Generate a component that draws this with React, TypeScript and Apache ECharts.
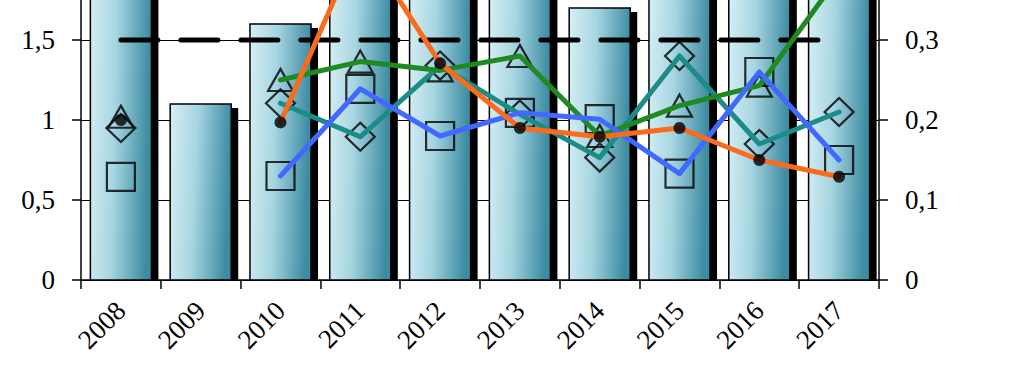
import React, { useEffect, useRef } from "react";
import * as echarts from "echarts";

const years = ["2008", "2009", "2010", "2011", "2012", "2013", "2014", "2015", "2016", "2017"];
// Bars (left axis)
const barValues = [2.1, 1.1, 1.6, 2.0, 2.05, 1.95, 1.7, 2.0, 1.9, 1.95];
// Reference level (left axis)
const refLevel = [1.5, 1.5, 1.5, 1.5, 1.5, 1.5, 1.5, 1.5, 1.5, 1.5];
// Line series (right axis)
const circleSeries = [0.2, null, 0.197, 0.425, 0.271, 0.19, 0.179, 0.19, 0.15, 0.129];
const triangleSeries = [0.204, null, 0.25, 0.273, 0.262, 0.28, 0.18, 0.218, 0.243, 0.38];
const diamondSeries = [0.19, null, 0.221, 0.179, 0.268, 0.207, 0.153, 0.28, 0.17, 0.21];
const squareSeries = [0.129, null, 0.13, 0.239, 0.18, 0.209, 0.201, 0.133, 0.26, 0.15];

const leftTicks = { min: 0, max: 2, interval: 0.5 };
const rightTicks = { min: 0, max: 0.4, interval: 0.1 };

const FONT = "'Liberation Serif', 'Times New Roman', serif";

function fmt(v: number) {
  const r = Math.round(v * 100) / 100;
  return String(r).replace(".", ",");
}

function pts(arr: (number | null)[]) {
  const out: [number, number][] = [];
  arr.forEach((v, i) => {
    if (v !== null) out.push([i, v]);
  });
  return out;
}

export default function App() {
  const ref = useRef<HTMLDivElement>(null);
  useEffect(() => {
    if (!ref.current) return;
    const chart = echarts.init(ref.current, undefined, { renderer: "svg" });
    const grad = new echarts.graphic.LinearGradient(0, 0, 1, 0.12, [
      { offset: 0, color: "#d7eff5" },
      { offset: 0.45, color: "#a6d5e1" },
      { offset: 1, color: "#3d8ca2" },
    ]);
    const axisLabel = { color: "#000", fontFamily: FONT, fontSize: 27 };
    const markerStyle = { color: "rgba(0,0,0,0)", borderColor: "#000", borderWidth: 2.2 };
    const lineCommon = (data: (number | null)[], color: string, z: number) => ({
      type: "line",
      yAxisIndex: 1,
      data,
      showSymbol: false,
      symbol: "none",
      connectNulls: false,
      lineStyle: { color, width: 5, cap: "round", join: "round" },
      z,
      silent: true,
    });
    const option: any = {
      animation: false,
      grid: {
        left: 81,
        right: 145,
        top: 0,
        bottom: 103,
        containLabel: false,
        outerBoundsMode: "none",
      },
      xAxis: {
        type: "category",
        data: years,
        boundaryGap: true,
        axisLine: { show: true, lineStyle: { color: "#000", width: 1.5 } },
        axisTick: { show: true, interval: 0, length: 9, lineStyle: { color: "#000", width: 1.5 } },
        axisLabel: { ...axisLabel, rotate: 45, margin: 26, interval: 0 },
        splitLine: { show: false },
      },
      yAxis: [
        {
          type: "value",
          ...leftTicks,
          position: "left",
          axisLine: { show: true, lineStyle: { color: "#000", width: 1.5 } },
          axisTick: { show: true, length: 9, lineStyle: { color: "#000", width: 1.5 } },
          axisLabel: { ...axisLabel, margin: 26, showMaxLabel: false, formatter: (v: number) => fmt(v) },
          splitLine: { show: true, lineStyle: { color: "#000", width: 1 } },
        },
        {
          type: "value",
          ...rightTicks,
          position: "right",
          axisLine: { show: true, lineStyle: { color: "#000", width: 1.5 } },
          axisTick: { show: true, length: 9, lineStyle: { color: "#000", width: 1.5 } },
          axisLabel: { ...axisLabel, margin: 26, showMaxLabel: false, formatter: (v: number) => fmt(v) },
          splitLine: { show: false },
        },
      ],
      series: [
        {
          type: "custom",
          yAxisIndex: 0,
          z: 1,
          data: barValues.map((v, i) => [i, v]),
          renderItem: (params: any, api: any) => {
            const idx = api.value(0);
            const val = api.value(1);
            const top = api.coord([idx, val]);
            const bottom = api.coord([idx, 0]);
            const band = api.size([1, 0])[0];
            const w = band * 0.765;
            const x = top[0] - w / 2;
            const h = bottom[1] - top[1];
            return {
              type: "group",
              children: [
                {
                  type: "rect",
                  shape: { x: x + 7, y: top[1] + 4, width: w, height: h - 4 },
                  style: { fill: "#000" },
                },
                {
                  type: "rect",
                  shape: { x, y: top[1], width: w, height: h },
                  style: { fill: grad, stroke: "#000", lineWidth: 1.5 },
                },
              ],
            };
          },
        },
        {
          type: "line",
          yAxisIndex: 0,
          data: refLevel,
          showSymbol: false,
          symbol: "none",
          lineStyle: { color: "#000", width: 5, type: [37, 23], cap: "round" },
          z: 2,
        },
        {
          type: "scatter",
          yAxisIndex: 1,
          data: pts(squareSeries),
          symbol: "rect",
          symbolSize: 28,
          itemStyle: markerStyle,
          z: 3,
        },
        {
          type: "scatter",
          yAxisIndex: 1,
          data: pts(diamondSeries),
          symbol: "diamond",
          symbolSize: [29, 28],
          itemStyle: markerStyle,
          z: 3,
        },
        {
          type: "scatter",
          yAxisIndex: 1,
          data: pts(triangleSeries),
          symbol: "triangle",
          symbolSize: [25, 22],
          itemStyle: markerStyle,
          z: 3,
        },
        lineCommon(diamondSeries, "#1c8c88", 4),
        lineCommon(triangleSeries, "#1f8a22", 4),
        lineCommon(squareSeries, "#4169ff", 4),
        lineCommon(circleSeries, "#fb6b1c", 4),
        {
          type: "scatter",
          yAxisIndex: 1,
          data: pts(circleSeries),
          symbol: "circle",
          symbolSize: 12,
          itemStyle: { color: "#000" },
          z: 5,
        },
      ],
    };
    chart.setOption(option);
    return () => chart.dispose();
  }, []);
  return (
    <div
      ref={ref}
      style={{ position: "fixed", left: 0, top: -40, width: 1024, height: 423, background: "#fff" }}
    />
  );
}
